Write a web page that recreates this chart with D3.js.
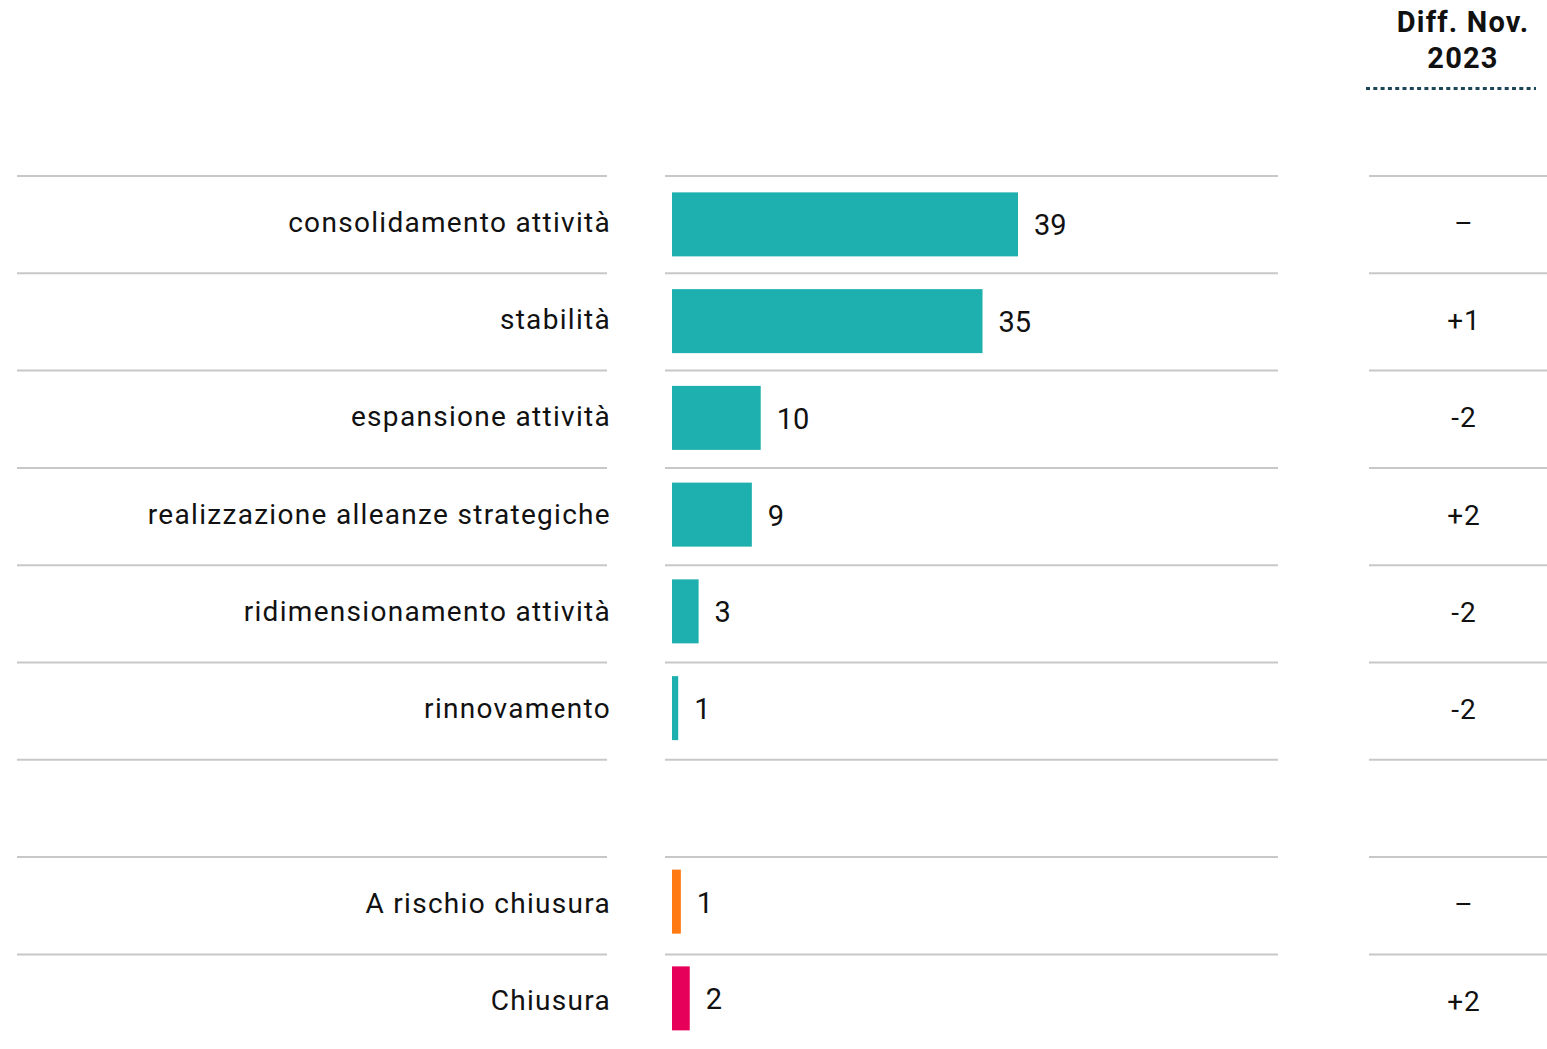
<!DOCTYPE html>
<html>
<head>
<meta charset="utf-8">
<script src="https://cdn.jsdelivr.net/npm/d3@7"></script>
<style>
  body { margin: 0; background: #fff; }
  text { font-family: Roboto, "Noto Sans", sans-serif; }
</style>
</head>
<body>
<svg id="chart"></svg>
<script>
// rows, an empty string is the spacer row between the two groups
const categories = ["consolidamento attività", "stabilità", "espansione attività",
  "realizzazione alleanze strategiche", "ridimensionamento attività", "rinnovamento",
  "", "A rischio chiusura", "Chiusura"];
const values = [39, 35, 10, 9, 3, 0.7, null, 1, 2];
const valueLabels = ["39", "35", "10", "9", "3", "1", "", "1", "2"];
const diffs = ["–", "+1", "-2", "+2", "-2", "-2", "", "–", "+2"];
const barColors = ["#1eb0ae", "#1eb0ae", "#1eb0ae", "#1eb0ae", "#1eb0ae", "#1eb0ae", null, "#ff7a12", "#e6005a"];
const headerLines = ["Diff. Nov.", "2023"];

const width = 1547, height = 1049;
const topY = 176, rowH = 97.3, barRowH = 96.75;
const labelCol = { x0: 17, x1: 607, textX: 611 };
const barCol = { x0: 665, x1: 1278, start: 672 };
const diffCol = { x0: 1369, x1: 1547, cx: 1463 };
const lineColor = "#c8c8c8";

const svg = d3.select("#chart").attr("width", width).attr("height", height);

const y = d3.scaleBand()
  .domain(d3.range(categories.length))
  .range([topY, topY + rowH * categories.length]);

// the bars sit on a slightly tighter pitch than the rules
const yBar = d3.scaleBand()
  .domain(d3.range(categories.length))
  .range([topY, topY + barRowH * categories.length]);

const x = d3.scaleLinear()
  .domain([0, 39])
  .range([barCol.start, barCol.start + 346]);

// header
svg.append("g")
  .selectAll("text")
  .data(headerLines)
  .enter()
  .append("text")
  .attr("x", diffCol.cx)
  .attr("y", (d, i) => 32 + i * 36)
  .attr("text-anchor", "middle")
  .attr("font-size", 29)
  .attr("font-weight", 700)
  .attr("letter-spacing", 1.2)
  .attr("fill", "#111")
  .text(d => d);

svg.append("line")
  .attr("x1", 1366).attr("x2", 1536)
  .attr("y1", 88.5).attr("y2", 88.5)
  .attr("stroke", "#1d4558")
  .attr("stroke-width", 3)
  .attr("stroke-dasharray", "4,3.3");

// row separators (top of every row)
const rows = d3.range(categories.length);
[labelCol, barCol, diffCol].forEach(col => {
  svg.append("g")
    .selectAll("line")
    .data(rows)
    .enter()
    .append("line")
    .attr("x1", col.x0).attr("x2", col.x1)
    .attr("y1", d => y(d)).attr("y2", d => y(d))
    .attr("stroke", lineColor)
    .attr("stroke-width", 2);
});

const filled = rows.filter(i => values[i] !== null);

// category labels
svg.append("g")
  .selectAll("text")
  .data(filled)
  .enter()
  .append("text")
  .attr("x", labelCol.textX)
  .attr("y", i => y(i) + y.bandwidth() / 2 + 7)
  .attr("text-anchor", "end")
  .attr("font-size", 28)
  .attr("letter-spacing", 1.3)
  .attr("fill", "#111")
  .text(i => categories[i]);

// bars
const barH = 64;
svg.append("g")
  .selectAll("rect")
  .data(filled)
  .enter()
  .append("rect")
  .attr("x", x(0))
  .attr("y", i => yBar(i) + (yBar.bandwidth() - barH) / 2)
  .attr("width", i => x(values[i]) - x(0))
  .attr("height", barH)
  .attr("fill", i => barColors[i]);

// value labels
svg.append("g")
  .selectAll("text")
  .data(filled)
  .enter()
  .append("text")
  .attr("x", i => x(values[i]) + 16)
  .attr("y", i => yBar(i) + yBar.bandwidth() / 2 + 11)
  .attr("font-size", 29)
  .attr("fill", "#111")
  .text(i => valueLabels[i]);

// differences
svg.append("g")
  .selectAll("text")
  .data(filled)
  .enter()
  .append("text")
  .attr("x", diffCol.cx + 1)
  .attr("y", i => y(i) + y.bandwidth() / 2 + 8)
  .attr("text-anchor", "middle")
  .attr("font-size", 28)
  .attr("letter-spacing", 1)
  .attr("fill", "#111")
  .text(i => diffs[i]);
</script>
</body>
</html>
